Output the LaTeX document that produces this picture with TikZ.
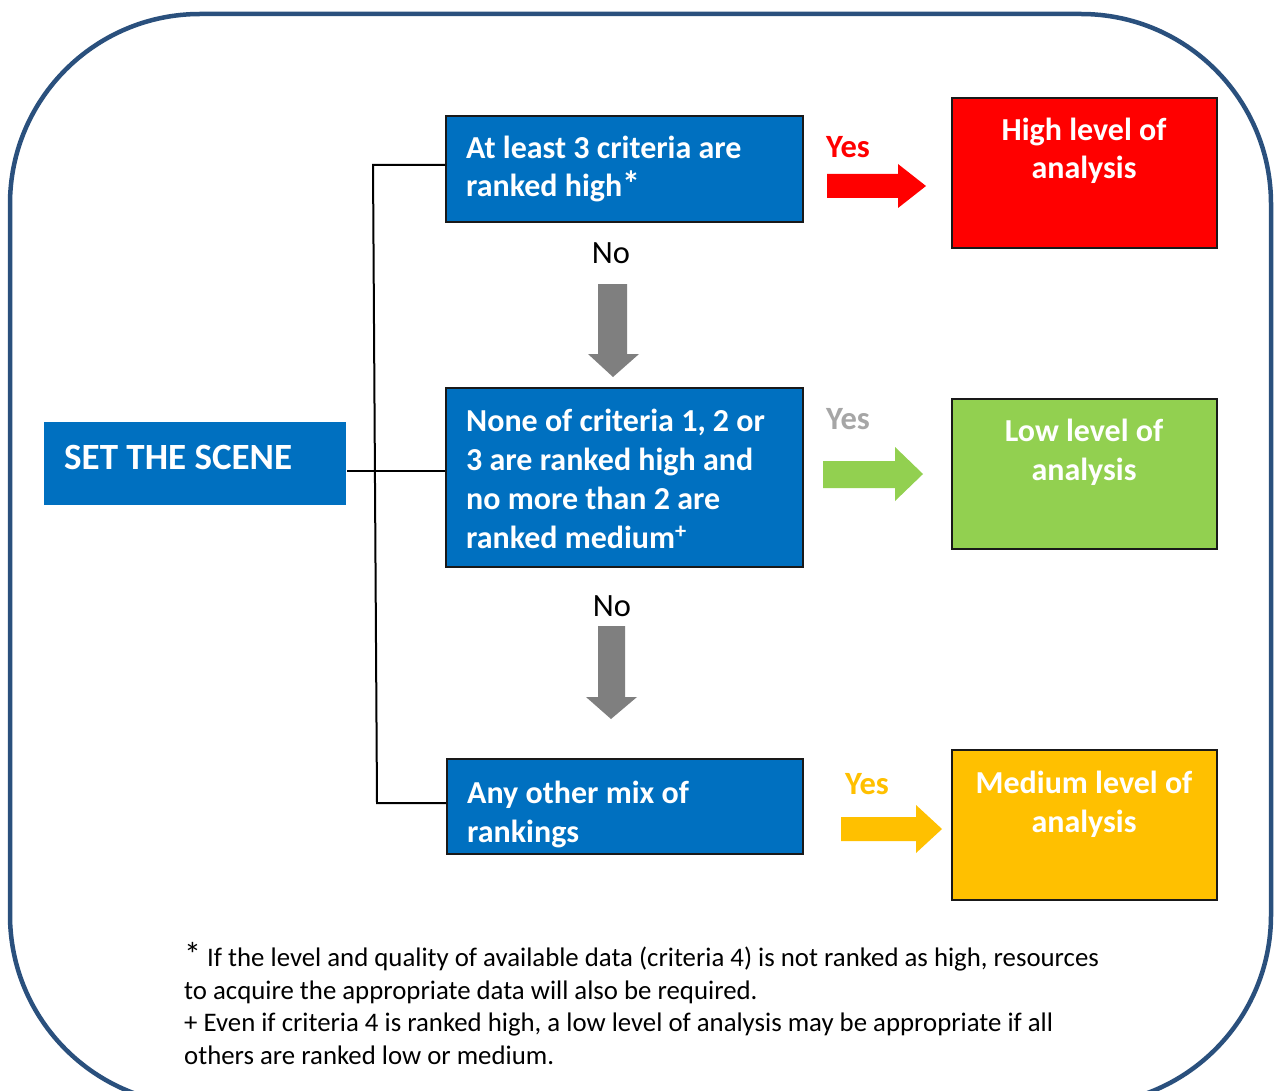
\documentclass[tikz,border=0pt]{standalone}
\usepackage{fontspec}
\setmainfont{Carlito}
\definecolor{boxblue}{RGB}{0,112,192}
\definecolor{framecol}{RGB}{42,80,125}
\definecolor{hired}{RGB}{255,0,0}
\definecolor{logreen}{RGB}{146,208,80}
\definecolor{medyellow}{RGB}{255,192,0}
\definecolor{arrgrey}{RGB}{127,127,127}
\definecolor{yesgrey}{RGB}{166,166,166}
\begin{document}
\begin{tikzpicture}[x=1pt,y=-1pt,
  bluebox/.style={draw=black!90, line width=2pt, fill=boxblue, anchor=north west, inner sep=0pt},
  levelbox/.style={draw=black!90, line width=2pt, anchor=north west, inner sep=0pt, minimum width=265pt, minimum height=150pt},
  boxtext/.style={anchor=base west, inner sep=0pt, text=white, align=left, font=\fontsize{32}{38.7}\selectfont\bfseries},
  leveltext/.style={anchor=base, inner sep=0pt, text=white, align=center, font=\fontsize{32}{38.7}\selectfont\bfseries},
  yeslabel/.style={anchor=base west, inner sep=0pt, font=\fontsize{32.5}{32.5}\selectfont\bfseries},
  nolabel/.style={anchor=base, inner sep=0pt, font=\fontsize{32.5}{32.5}\selectfont},
  conn/.style={draw=black, line width=2pt},
  foot/.style={anchor=base west, inner sep=0pt, align=left, font=\fontsize{26.8}{32.4}\selectfont}
]
\useasboundingbox (0,0) rectangle (1281,1091);
\clip (0,0) rectangle (1281,1091);
\fill[white] (0,0) rectangle (1281,1091);

% outer frame
\draw[framecol, line width=4.5pt, rounded corners=190pt] (10,14) rectangle (1271,1105);

% boxes
\node[bluebox, draw=none, minimum width=302pt, minimum height=83pt] (scene) at (43,421) {};
\node[bluebox, minimum width=357pt, minimum height=106pt] (b1) at (445,115) {};
\node[bluebox, minimum width=357pt, minimum height=179pt] (b2) at (445,387) {};
\node[bluebox, minimum width=356pt, minimum height=95pt] (b3) at (446,758) {};
\node[levelbox, fill=hired] (high) at (951,97) {};
\node[levelbox, fill=logreen] (low) at (951,398) {};
\node[levelbox, fill=medyellow] (med) at (951,749) {};

% texts (anchored at the baseline of the last line)
\node[boxtext, font=\fontsize{37}{37}\selectfont\bfseries] (ts) at (64,469) {SET THE SCENE};
\node[boxtext] (t1) at (466,197) {At least 3 criteria are\\ranked high{\fontsize{36}{36}\selectfont*}};
\node[boxtext] (t2) at (466,548) {None of criteria 1, 2 or\\3 are ranked high and\\no more than 2 are\\ranked medium\textsuperscript{+}};
\node[boxtext] (t3) at (467,842) {Any other mix of\\rankings};
\node[leveltext] (th) at (1084,179) {High level of\\analysis};
\node[leveltext] (tl) at (1084,480) {Low level of\\analysis};
\node[leveltext] (tm) at (1084,832) {Medium level of\\analysis};

% yes / no labels
\node[yeslabel, text=hired] (y1) at (826,158) {Yes};
\node[yeslabel, text=yesgrey] (y2) at (826,429) {Yes};
\node[yeslabel, text=medyellow] (y3) at (845,794) {Yes};
\node[nolabel] (n1) at (611,263) {No};
\node[nolabel] (n2) at (612,616) {No};

% connectors
\coordinate (ttop) at (373,165);
\coordinate (tmid) at (375,471);
\coordinate (tbot) at (377,803);
\draw[conn] (scene.east |- tmid) -- (b2.west |- tmid);
\draw[conn] (b1.west |- ttop) -- (ttop) -- (tbot) -- (b3.west |- tbot);

% block arrows
\fill[hired] (827,174) -- (898,174) -- (898,164) -- (926,186) -- (898,208) -- (898,198) -- (827,198) -- cycle;
\fill[logreen] (823,461) -- (895,461) -- (895,447) -- (923,474) -- (895,501) -- (895,488) -- (823,488) -- cycle;
\fill[medyellow] (841,817) -- (916,817) -- (916,805) -- (942,829) -- (916,853) -- (916,841) -- (841,841) -- cycle;
\fill[arrgrey] (598,284) -- (627,284) -- (627,354) -- (639,354) -- (613,377) -- (588,354) -- (598,354) -- cycle;
\fill[arrgrey] (598,626) -- (625,626) -- (625,697) -- (637,697) -- (611,719) -- (586,697) -- (598,697) -- cycle;

% footnote
\node[foot] (fn) at (184,1064) {{\fontsize{34}{30}\selectfont *} If the level and quality of available data (criteria 4) is not ranked as high, resources\\to acquire the appropriate data will also be required.\\+ Even if criteria 4 is ranked high, a low level of analysis may be appropriate if all\\others are ranked low or medium.};
\end{tikzpicture}
\end{document}
